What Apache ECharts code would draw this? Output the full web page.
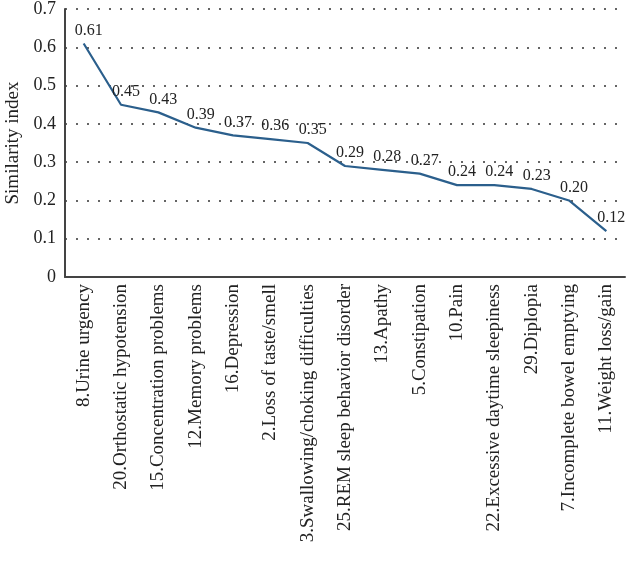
<!DOCTYPE html>
<html><head><meta charset="utf-8">
<script src="https://cdn.jsdelivr.net/npm/echarts@6/dist/echarts.min.js"></script>
<style>html,body{margin:0;padding:0;background:#fff}#c{width:627px;height:563px}</style>
</head><body><div id="c"></div>
<script>
var categories = ["8.Urine urgency","20.Orthostatic hypotension","15.Concentration problems","12.Memory problems","16.Depression","2.Loss of taste/smell","3.Swallowing/choking difficulties","25.REM sleep behavior disorder","13.Apathy","5.Constipation","10.Pain","22.Excessive daytime sleepiness","29.Diplopia","7.Incomplete bowel emptying","11.Weight loss/gain"];
var values = [0.61,0.45,0.43,0.39,0.37,0.36,0.35,0.29,0.28,0.27,0.24,0.24,0.23,0.20,0.12];
var yTicks = [0,0.1,0.2,0.3,0.4,0.5,0.6,0.7];
var font = "'Liberation Serif','DejaVu Serif',serif";
var chart = echarts.init(document.getElementById('c'));
chart.setOption({
  animation:false,
  grid:{left:65,right:2,top:9,bottom:286,containLabel:false,outerBoundsMode:'none'},
  xAxis:{type:'category',data:categories,boundaryGap:true,
    axisLine:{lineStyle:{color:'#444',width:2}},axisTick:{show:false},
    axisLabel:{rotate:90,interval:0,color:'#222',fontFamily:font,fontSize:19,margin:7}},
  yAxis:{type:'value',min:0,max:0.7,interval:0.1,name:'Similarity index',nameLocation:'middle',nameGap:42,
    nameTextStyle:{color:'#222',fontFamily:font,fontSize:19},
    axisLine:{show:true,lineStyle:{color:'#444',width:2}},axisTick:{show:false},
    axisLabel:{color:'#222',fontFamily:font,fontSize:18,margin:9,formatter:function(v){return yTicks.indexOf(Math.round(v*10)/10)>=0?String(Math.round(v*10)/10):'';}},
    splitLine:{show:true,lineStyle:{color:'#333',type:[2,9],width:1.5}}},
  series:[{type:'line',data:values,symbol:'circle',symbolSize:2,showSymbol:true,
    itemStyle:{color:'rgba(0,0,0,0)',borderWidth:0},
    lineStyle:{color:'#2b5f8c',width:2.2},
    label:{show:true,position:'top',distance:4,offset:[5,0],color:'#222',fontFamily:font,fontSize:16,formatter:function(p){return Number(p.value).toFixed(2);}}}]
});
</script></body></html>
